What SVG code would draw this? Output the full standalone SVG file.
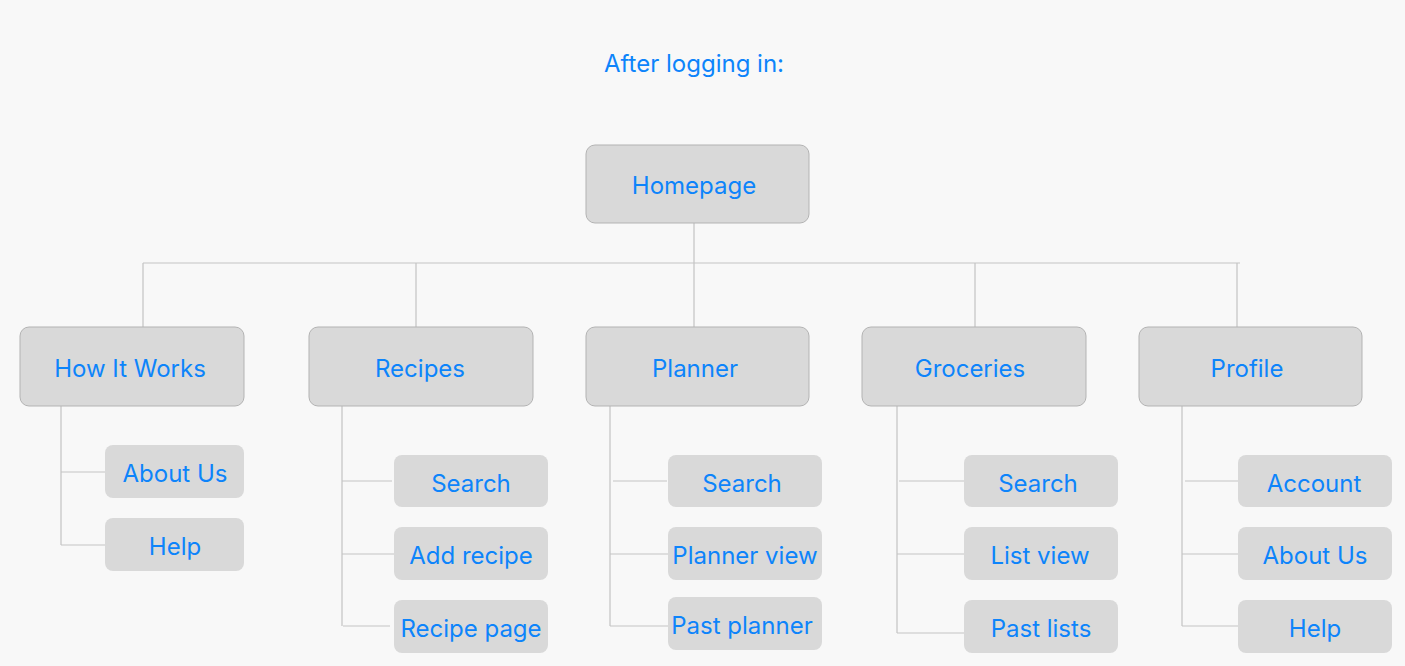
<svg xmlns="http://www.w3.org/2000/svg" width="1405" height="666" viewBox="0 0 1405 666">
  <style>
    text { font-family: Inter, "Noto Sans", "Liberation Sans", sans-serif; font-size: 24px; fill: #0d84fb; text-anchor: middle; }
    .main { fill: #d9d9d9; stroke: #b3b3b3; stroke-width: 1; }
    .sub { fill: #d9d9d9; }
    .wire { stroke: #c4c4c4; stroke-width: 1.2; fill: none; }
  </style>
  <rect width="1405" height="666" fill="#f8f8f8"/>
  <text x="694" y="72">After logging in:</text>

  <g id="connectors" class="wire">
    <path d="M694 223V263M143 263H1240M143 263V327M416 263V327M694 263V327M975 263V327M1237 263V327"/>
    <path d="M61 406V545M61 472H105M61 545H105"/>
    <path d="M342 406V626M342 481H392M342 554H394M343 626H390"/>
    <path d="M610 406V626M613 481H667M610 554H668M610 626H668"/>
    <path d="M897 406V633M899 481H964M897 554H964M897 633H964"/>
    <path d="M1182 406V626M1185 481H1238M1182 554H1238M1182 626H1240"/>
  </g>

  <g id="homepage"><rect class="main" x="586" y="145" width="223" height="78" rx="9"/><text x="694" y="194">Homepage</text></g>

  <g id="how-it-works"><rect class="main" x="20" y="327" width="224" height="79" rx="9"/><text x="130" y="377">How It Works</text></g>
  <g id="recipes"><rect class="main" x="309" y="327" width="224" height="79" rx="9"/><text x="420" y="377">Recipes</text></g>
  <g id="planner"><rect class="main" x="586" y="327" width="223" height="79" rx="9"/><text x="695" y="377">Planner</text></g>
  <g id="groceries"><rect class="main" x="862" y="327" width="224" height="79" rx="9"/><text x="970" y="377">Groceries</text></g>
  <g id="profile"><rect class="main" x="1139" y="327" width="223" height="79" rx="9"/><text x="1247" y="377">Profile</text></g>

  <g id="hiw-about"><rect class="sub" x="105" y="445" width="139" height="53" rx="8"/><text x="175" y="482">About Us</text></g>
  <g id="hiw-help"><rect class="sub" x="105" y="518" width="139" height="53" rx="8"/><text x="175" y="555">Help</text></g>

  <g id="recipes-search"><rect class="sub" x="394" y="455" width="154" height="52" rx="8"/><text x="471" y="492">Search</text></g>
  <g id="recipes-add"><rect class="sub" x="394" y="527" width="154" height="53" rx="8"/><text x="471" y="564">Add recipe</text></g>
  <g id="recipes-page"><rect class="sub" x="394" y="600" width="154" height="53" rx="8"/><text x="471" y="637">Recipe page</text></g>

  <g id="planner-search"><rect class="sub" x="668" y="455" width="154" height="52" rx="8"/><text x="742" y="492">Search</text></g>
  <g id="planner-view"><rect class="sub" x="668" y="527" width="154" height="53" rx="8"/><text x="745" y="564">Planner view</text></g>
  <g id="planner-past"><rect class="sub" x="668" y="597" width="154" height="53" rx="8"/><text x="742" y="634">Past planner</text></g>

  <g id="groceries-search"><rect class="sub" x="964" y="455" width="154" height="52" rx="8"/><text x="1038" y="492">Search</text></g>
  <g id="groceries-list"><rect class="sub" x="964" y="527" width="154" height="53" rx="8"/><text x="1040" y="564">List view</text></g>
  <g id="groceries-past"><rect class="sub" x="964" y="600" width="154" height="53" rx="8"/><text x="1041" y="637">Past lists</text></g>

  <g id="profile-account"><rect class="sub" x="1238" y="455" width="154" height="52" rx="8"/><text x="1314" y="492">Account</text></g>
  <g id="profile-about"><rect class="sub" x="1238" y="527" width="154" height="53" rx="8"/><text x="1315" y="564">About Us</text></g>
  <g id="profile-help"><rect class="sub" x="1238" y="600" width="154" height="53" rx="8"/><text x="1315" y="637">Help</text></g>
</svg>
